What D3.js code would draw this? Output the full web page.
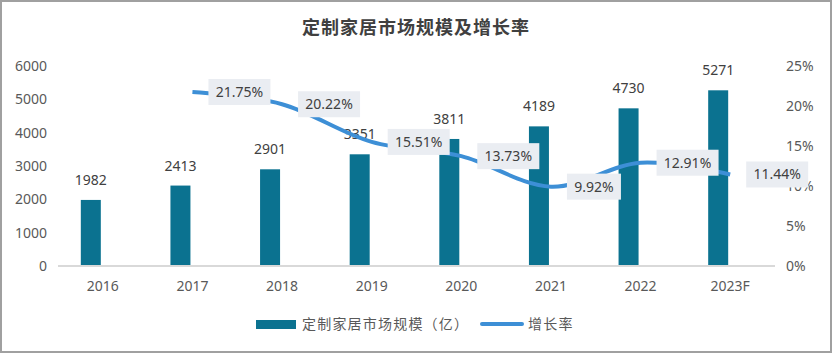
<!DOCTYPE html>
<html>
<head>
<meta charset="utf-8">
<script src="https://cdn.jsdelivr.net/npm/d3@7"></script>
<style>
  body { margin: 0; background: #fff; }
  text { font-family: "Noto Sans", "Noto Sans CJK SC", sans-serif; }
</style>
</head>
<body>
<svg id="chart" width="832" height="354"></svg>
<script>
// data
const years = ["2016", "2017", "2018", "2019", "2020", "2021", "2022", "2023F"];
const marketSize = [1982, 2413, 2901, 3351, 3811, 4189, 4730, 5271];
const growthYears = ["2017", "2018", "2019", "2020", "2021", "2022", "2023F"];
const growthRate = [21.75, 20.22, 15.51, 13.73, 9.92, 12.91, 11.44];
const leftTicks = [0, 1000, 2000, 3000, 4000, 5000, 6000];
const rightTicks = [0, 5, 10, 15, 20, 25];

const color = { bar: "#0b7290", line: "#3d8fd6", text: "#595959", label: "#404040" };

const svg = d3.select('#chart');

// frame
svg.append('rect')
    .attr('x', 1).attr('y', 1)
    .attr('width', 830).attr('height', 351)
    .style('fill', 'none')
    .style('stroke', '#a0a0a0')
    .style('stroke-width', 2);

// title
svg.append('text')
    .attr('x', 416).attr('y', 34)
    .attr('text-anchor', 'middle')
    .text('定制家居市场规模及增长率')
    .style('font-family', '"Noto Sans CJK SC"')
    .style('font-weight', 'bold')
    .style('font-size', '18px')
    .style('letter-spacing', '1px')
    .style('fill', '#404040');

// scales
const xScale = d3.scaleBand().domain(years).range([58, 775]);
const yLeft = d3.scaleLinear().domain([0, 6000]).range([266, 66]);
const yRight = d3.scaleLinear().domain([0, 25]).range([266, 66]);
const cx = d => xScale(d) + xScale.bandwidth() / 2;

// left axis labels
svg.append('g').selectAll('text').data(leftTicks).enter().append('text')
    .attr('x', 47)
    .attr('y', d => yLeft(d) + 5)
    .attr('text-anchor', 'end')
    .text(d => d)
    .style('font-size', '14px')
    .style('fill', color.text);

// right axis labels
svg.append('g').selectAll('text').data(rightTicks).enter().append('text')
    .attr('x', 786)
    .attr('y', d => yRight(d) + 5)
    .text(d => d + '%')
    .style('font-size', '14px')
    .style('fill', color.text);

// x labels
svg.append('g').selectAll('text').data(years).enter().append('text')
    .attr('x', d => cx(d))
    .attr('y', 291)
    .attr('text-anchor', 'middle')
    .text(d => d)
    .style('font-size', '14px')
    .style('fill', color.text);

// bars
const barW = 20;
svg.append('g').selectAll('rect').data(marketSize).enter().append('rect')
    .attr('x', (d, i) => cx(years[i]) - 22)
    .attr('y', d => yLeft(d))
    .attr('width', barW)
    .attr('height', d => yLeft(0) - yLeft(d))
    .style('fill', color.bar);

// baseline
svg.append('line')
    .attr('x1', 58).attr('x2', 775)
    .attr('y1', yLeft(0)).attr('y2', yLeft(0))
    .style('stroke', '#d9d9d9')
    .style('stroke-width', 2);

// bar value labels
svg.append('g').selectAll('text').data(marketSize).enter().append('text')
    .attr('x', (d, i) => cx(years[i]) - 12)
    .attr('y', d => yLeft(d) - 15)
    .attr('text-anchor', 'middle')
    .text(d => d)
    .style('font-size', '14px')
    .style('fill', color.label);

// growth line (excel-like smoothing)
const line = d3.line()
    .x((d, i) => cx(growthYears[i]))
    .y(d => yRight(d))
    .curve(d3.curveCardinal.tension(0));

svg.append('path')
    .datum(growthRate)
    .attr('d', line)
    .style('fill', 'none')
    .style('stroke', color.line)
    .style('stroke-width', 4);

// growth labels
const gl = svg.append('g').selectAll('g').data(growthRate).enter().append('g')
    .attr('transform', (d, i) => `translate(${cx(growthYears[i]) + 16},${yRight(d)})`);

gl.append('rect')
    .attr('x', 0).attr('y', -13)
    .attr('width', d => d < 10 ? 54 : 62)
    .attr('height', 26)
    .style('fill', '#eaedf2');

gl.append('text')
    .attr('x', d => d < 10 ? 27 : 31)
    .attr('y', 5)
    .attr('text-anchor', 'middle')
    .text(d => d.toFixed(2) + '%')
    .style('font-size', '14px')
    .style('fill', color.label);

// legend
const legend = svg.append('g');
legend.append('rect')
    .attr('x', 256).attr('y', 320)
    .attr('width', 40).attr('height', 9)
    .style('fill', color.bar);
legend.append('text')
    .attr('x', 302).attr('y', 329)
    .text('定制家居市场规模（亿）')
    .style('font-family', '"Noto Sans CJK SC"')
    .style('font-size', '14px')
    .style('letter-spacing', '1.2px')
    .style('fill', color.text);
legend.append('line')
    .attr('x1', 482).attr('x2', 522)
    .attr('y1', 324).attr('y2', 324)
    .style('stroke', color.line)
    .style('stroke-width', 4)
    .style('stroke-linecap', 'round');
legend.append('text')
    .attr('x', 528).attr('y', 329)
    .text('增长率')
    .style('font-family', '"Noto Sans CJK SC"')
    .style('font-size', '14px')
    .style('letter-spacing', '1.2px')
    .style('fill', color.text);
</script>
</body>
</html>
